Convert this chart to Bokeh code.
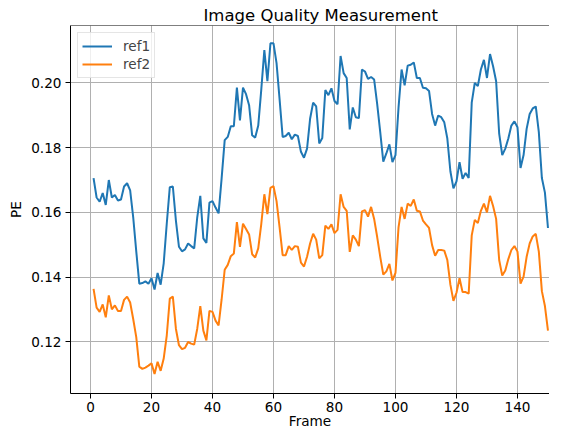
from bokeh.plotting import figure
from bokeh.models import Range1d, FixedTicker, Legend, LegendItem, Span, NumeralTickFormatter
from bokeh.embed import file_html
from bokeh.resources import INLINE

frames = list(range(1, 151))

ref1 = [0.1706, 0.1646, 0.1633, 0.1660, 0.1623, 0.1700, 0.1646, 0.1654, 0.1637, 0.1640,
        0.1680, 0.1690, 0.1668, 0.1585, 0.1480, 0.1380, 0.1382, 0.1387, 0.1380, 0.1397,
        0.1362, 0.1413, 0.1377, 0.1443, 0.1565, 0.1678, 0.1680, 0.1575, 0.1494, 0.1480,
        0.1486, 0.1504, 0.1496, 0.1489, 0.1585, 0.1651, 0.1520, 0.1506, 0.1630, 0.1635,
        0.1615, 0.1597, 0.1706, 0.1823, 0.1833, 0.1866, 0.1866, 0.1985, 0.1884, 0.1985,
        0.1965, 0.1931, 0.1838, 0.1831, 0.1868, 0.1980, 0.2101, 0.2005, 0.2122, 0.2122,
        0.2061, 0.1949, 0.1833, 0.1836, 0.1846, 0.1826, 0.1840, 0.1836, 0.1787, 0.1769,
        0.1797, 0.1889, 0.1939, 0.1927, 0.1813, 0.1830, 0.1978, 0.1962, 0.1983, 0.1944,
        0.1934, 0.2083, 0.2030, 0.2015, 0.1856, 0.1924, 0.1894, 0.1891, 0.2041, 0.2035,
        0.2012, 0.2018, 0.2010, 0.1934, 0.1848, 0.1757, 0.1782, 0.1810, 0.1755, 0.1777,
        0.1924, 0.2041, 0.1992, 0.2053, 0.2056, 0.2063, 0.2015, 0.2015, 0.1985, 0.1983,
        0.1975, 0.1904, 0.1868, 0.1899, 0.1894, 0.1878, 0.1828, 0.1727, 0.1674, 0.1696,
        0.1755, 0.1704, 0.1722, 0.1706, 0.1939, 0.2000, 0.1990, 0.2041, 0.2071, 0.2015,
        0.2089, 0.2051, 0.2005, 0.1843, 0.1777, 0.1797, 0.1828, 0.1868, 0.1881, 0.1863,
        0.1737, 0.1777, 0.1858, 0.1904, 0.1921, 0.1927, 0.1848, 0.1706, 0.1661, 0.1552]

ref2 = [0.1364, 0.1306, 0.1293, 0.1316, 0.1276, 0.1344, 0.1301, 0.1313, 0.1296, 0.1296,
        0.1330, 0.1340, 0.1322, 0.1271, 0.1215, 0.1124, 0.1117, 0.1121, 0.1127, 0.1134,
        0.1101, 0.1139, 0.1111, 0.1149, 0.1220, 0.1334, 0.1340, 0.1241, 0.1190, 0.1178,
        0.1182, 0.1200, 0.1195, 0.1192, 0.1241, 0.1311, 0.1235, 0.1205, 0.1296, 0.1293,
        0.1266, 0.1251, 0.1332, 0.1423, 0.1438, 0.1465, 0.1473, 0.1570, 0.1494, 0.1565,
        0.1549, 0.1532, 0.1471, 0.1461, 0.1489, 0.1565, 0.1656, 0.1595, 0.1676, 0.1681,
        0.1635, 0.1554, 0.1468, 0.1468, 0.1496, 0.1484, 0.1496, 0.1494, 0.1445, 0.1433,
        0.1463, 0.1504, 0.1534, 0.1516, 0.1458, 0.1468, 0.1559, 0.1549, 0.1563, 0.1536,
        0.1546, 0.1656, 0.1617, 0.1605, 0.1478, 0.1529, 0.1516, 0.1496, 0.1603, 0.1607,
        0.1587, 0.1617, 0.1580, 0.1524, 0.1463, 0.1408, 0.1418, 0.1441, 0.1390, 0.1413,
        0.1554, 0.1617, 0.1580, 0.1627, 0.1620, 0.1640, 0.1605, 0.1603, 0.1575, 0.1563,
        0.1552, 0.1499, 0.1466, 0.1484, 0.1484, 0.1482, 0.1453, 0.1377, 0.1327, 0.1352,
        0.1397, 0.1354, 0.1354, 0.1349, 0.1529, 0.1577, 0.1567, 0.1605, 0.1627, 0.1600,
        0.1651, 0.1620, 0.1580, 0.1453, 0.1405, 0.1421, 0.1456, 0.1484, 0.1496, 0.1479,
        0.1380, 0.1402, 0.1463, 0.1504, 0.1526, 0.1534, 0.1479, 0.1357, 0.1311, 0.1235]

x_ticks = [0, 20, 40, 60, 80, 100, 120, 140]
y_ticks = [0.12, 0.14, 0.16, 0.18, 0.20]

X_START, X_END = -6.56, 150.5
Y_START, Y_END = 0.1041, 0.2177

FONT = "DejaVu Sans"
FS = "13.6px"

p = figure(width=549, height=431, output_backend="svg", toolbar_location=None,
           x_range=Range1d(X_START, X_END), y_range=Range1d(Y_START, Y_END),
           min_border_left=70, min_border_right=0, min_border_top=25,
           min_border_bottom=0)

p.title.text = "Image Quality Measurement"
p.title.text_font = FONT
p.title.text_font_size = "16.5px"
p.title.text_font_style = "normal"
p.title.text_color = "black"
p.title.align = "left"
p.title.offset = 133
p.title.standoff = 2

p.outline_line_color = None
p.background_fill_color = "white"
p.border_fill_color = "white"

top_spine = Span(location=Y_END, dimension="width", line_color="black", line_width=1)
p.add_layout(top_spine)

r1 = p.line(frames, ref1, line_color="#1f77b4", line_width=2)
r2 = p.line(frames, ref2, line_color="#ff7f0e", line_width=2)

for ax in (p.xaxis[0], p.yaxis[0]):
    ax.major_label_text_font = FONT
    ax.major_label_text_font_size = FS
    ax.major_label_text_color = "black"
    ax.axis_label_text_font = FONT
    ax.axis_label_text_font_size = FS
    ax.axis_label_text_font_style = "normal"
    ax.axis_label_text_color = "black"
    ax.major_tick_out = 5
    ax.major_tick_in = 0
    ax.minor_tick_out = 0
    ax.minor_tick_in = 0
    ax.axis_line_color = "black"
    ax.axis_line_width = 1
    ax.major_tick_line_color = "black"
    ax.major_tick_line_width = 1

p.xaxis.major_label_standoff = 3
p.yaxis.major_label_standoff = 4
p.xaxis.axis_label_standoff = -2
p.yaxis.axis_label_standoff = 4

p.xaxis.ticker = FixedTicker(ticks=x_ticks)
p.yaxis.ticker = FixedTicker(ticks=y_ticks)
p.yaxis.formatter = NumeralTickFormatter(format="0.00")
p.xaxis.axis_label = "Frame"
p.yaxis.axis_label = "PE"

p.xgrid.ticker = FixedTicker(ticks=x_ticks)
p.ygrid.ticker = FixedTicker(ticks=y_ticks)
p.grid.grid_line_color = "#b0b0b0"
p.grid.grid_line_width = 1

legend = Legend(items=[LegendItem(label="ref1", renderers=[r1]),
                       LegendItem(label="ref2", renderers=[r2])],
                location="top_left", margin=7, padding=4, spacing=0,
                label_height=18, glyph_height=18, glyph_width=30,
                label_standoff=11, label_text_font=FONT,
                label_text_font_size=FS,
                border_line_color="#cccccc", border_line_width=1,
                background_fill_color="white", background_fill_alpha=0.8)
p.add_layout(legend)

open("out.html", "w").write(file_html(p, INLINE))
